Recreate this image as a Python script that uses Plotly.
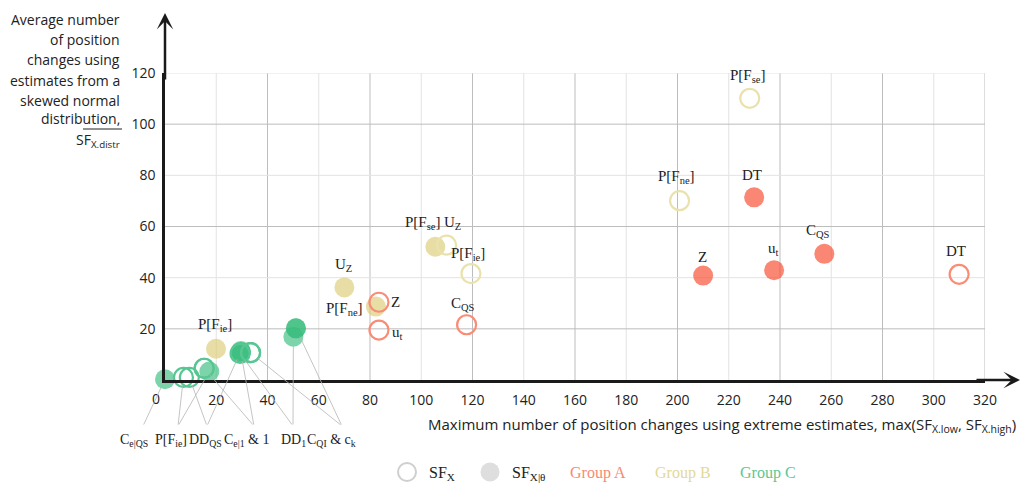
import plotly.graph_objects as go

# ---------------- data ----------------
x_ticks = list(range(20, 321, 20))
y_ticks = list(range(20, 121, 20))

# Group A  (SF_X = open ring, SF_X|theta = filled)
a_names = ["DT", "Z", "u<sub>t</sub>", "C<sub>QS</sub>"]
a_sfx_x = [309.9, 83.5, 83.5, 117.7]
a_sfx_y = [41.3, 30.4, 19.5, 21.6]
a_sfxt_x = [229.9, 210.0, 237.7, 257.3]
a_sfxt_y = [71.4, 40.8, 42.9, 49.3]

# Group B
b_names = ["P[F<sub>se</sub>]", "P[F<sub>ne</sub>]", "U<sub>Z</sub>", "P[F<sub>ie</sub>]"]
b_sfx_x = [228.2, 200.8, 109.9, 119.4]
b_sfx_y = [110.1, 70.1, 52.7, 41.6]
b_sfxt_x = [105.5, 82.3, 70.0, 19.9]
b_sfxt_y = [52.1, 28.7, 36.2, 12.2]

# Group C
c_names = ["C<sub>e|QS</sub>", "P[F<sub>ie</sub>]", "DD<sub>QS</sub>", "C<sub>e|1</sub>", "1",
           "DD<sub>1</sub>", "C<sub>QI</sub>", "c<sub>k</sub>"]
c_sfx_x = [None, 7.2, 9.5, 15.3, 15.3, 29.3, 33.4, 33.4]
c_sfx_y = [None, 1.0, 1.0, 4.6, 4.6, 10.4, 10.7, 10.7]
c_sfxt_x = [0.0, 17.3, 29.6, 29.6, 29.6, 50.1, 51.1, 51.1]
c_sfxt_y = [0.3, 3.3, 11.3, 10.8, 10.8, 16.9, 20.2, 20.2]
c_label_index = [0, 1, 2, 3, 3, 4, 5, 5]

legend_labels = ["SF<sub>X</sub>", "SF<sub>X|θ</sub>", "Group A", "Group B", "Group C"]

# ---------------- styling / layout ----------------
W, H = 1021, 486
ML, MR, MT, MB = 165, 36, 73, 106
PW, PH = W - ML - MR, H - MT - MB
XMAX, YMAX = 320, 120


def px(p):
    return (p - ML) / PW


def py(p):
    return (H - MB - p) / PH


A_FILL, A_RING, A_TXT = "rgb(247,70,40)", "rgb(250,140,118)", "#F98A72"
B_FILL, B_RING, B_TXT = "rgb(220,204,117)", "rgb(234,226,172)", "#E3D99A"
C_FILL, C_RING, C_TXT = "rgb(56,189,125)", "rgb(88,198,146)", "#5CC794"

SANS = "Open Sans"
SERIF = "Liberation Serif"


def filled(xs, ys, color):
    return go.Scatter(x=xs, y=ys, mode="markers", cliponaxis=False, showlegend=False,
                      hoverinfo="skip",
                      marker=dict(symbol="circle", size=20, color=color, opacity=0.65,
                                  line=dict(width=0)))


def ring(xs, ys, color):
    return go.Scatter(x=xs, y=ys, mode="markers", cliponaxis=False, showlegend=False,
                      hoverinfo="skip",
                      marker=dict(symbol="circle-open", size=19, color=color,
                                  line=dict(width=2.2, color=color)))


fig = go.Figure()
fig.add_trace(filled(a_sfxt_x, a_sfxt_y, A_FILL))
fig.add_trace(filled(b_sfxt_x, b_sfxt_y, B_FILL))
fig.add_trace(filled(c_sfxt_x, c_sfxt_y, C_FILL))
fig.add_trace(ring(a_sfx_x, a_sfx_y, A_RING))
fig.add_trace(ring(b_sfx_x, b_sfx_y, B_RING))
fig.add_trace(ring(c_sfx_x, c_sfx_y, C_RING))

shapes = []
# grid lines (darker every 40)
for v in x_ticks:
    shapes.append(dict(type="line", xref="x", yref="y", x0=v, x1=v, y0=0, y1=YMAX,
                       layer="below",
                       line=dict(color="#bdbdbd" if v % 40 == 0 else "#e3e3e3", width=1)))
for v in y_ticks:
    shapes.append(dict(type="line", xref="x", yref="y", x0=0, x1=XMAX, y0=v, y1=v,
                       layer="below",
                       line=dict(color="#bdbdbd" if v % 40 == 20 else "#e3e3e3", width=1)))

ann = []


def text_ann(xp, yp, t, font, xanchor="center"):
    ann.append(dict(xref="paper", yref="paper", x=px(xp), y=py(yp), text=t,
                    xanchor=xanchor, yanchor="middle", showarrow=False, font=font))


# axis arrows
ann.append(dict(xref="paper", yref="paper", x=px(1020), y=0, ax=-45, ay=0, text="",
                showarrow=True, arrowhead=3, arrowwidth=2.5, arrowsize=1.1,
                arrowcolor="#1a1a1a", font=dict(size=1), standoff=0))
ann.append(dict(xref="paper", yref="paper", x=0, y=py(13), ax=0, ay=68, text="",
                showarrow=True, arrowhead=3, arrowwidth=2.5, arrowsize=1.1,
                arrowcolor="#1a1a1a", font=dict(size=1), standoff=0))
# "0" tick label on x
text_ann(156, 398, "0", dict(family=SANS, size=14, color="#222"))

# point labels (offsets in px)
a_open_off = [(-3, 23), (17, 0), (19, -3), (-4, 21)]
a_fill_off = [(-2, 22), (-1, 19), (-1, 21), (-6, 23)]
b_open_off = [(-2, 22), (-3, 24), (6, 22), (-3, 20)]
b_fill_off = [(-13, 24), (-31, -2), (-1, 22), (-1, 24)]


def add_labels(names, xs, ys, offs):
    for n, xv, yv, (dx, dy) in zip(names, xs, ys, offs):
        ann.append(dict(x=xv, y=yv, xref="x", yref="y", text=n, showarrow=False,
                        xanchor="center", yanchor="middle", xshift=dx, yshift=dy,
                        font=dict(family=SERIF, size=15, color="#222")))


add_labels(a_names, a_sfx_x, a_sfx_y, a_open_off)
add_labels(a_names, a_sfxt_x, a_sfxt_y, a_fill_off)
add_labels(b_names, b_sfx_x, b_sfx_y, b_open_off)
add_labels(b_names, b_sfxt_x, b_sfxt_y, b_fill_off)

# group C labels below axis with leader lines
c_label_px = [134, 171, 205, 246, 293, 331]
c_anchor_px = [143, 178, 207, 254, 293, 342]
c_labels = []
for k in range(len(c_label_px)):
    c_labels.append(" & ".join(n for n, i in zip(c_names, c_label_index) if i == k))
for k, t in enumerate(c_labels):
    text_ann(c_label_px[k], 440, t, dict(family=SERIF, size=14, color="#222"))

seen = set()
anchor_y = (H - MB - 426) / PH * YMAX
for xs, ys in ((c_sfx_x, c_sfx_y), (c_sfxt_x, c_sfxt_y)):
    for xv, yv, i in zip(xs, ys, c_label_index):
        if xv is None or (xv, yv, i) in seen:
            continue
        seen.add((xv, yv, i))
        ann.append(dict(x=xv, y=yv, xref="x", yref="y", axref="x", ayref="y",
                        ax=(c_anchor_px[i] - ML) / PW * XMAX, ay=anchor_y, text="",
                        showarrow=True, arrowhead=0, arrowwidth=0.8, arrowcolor="#b5b5b5",
                        standoff=9, font=dict(size=1)))

# x axis title
text_ann(1018, 425,
         "Maximum number of position changes using extreme estimates, "
         "max(SF<sub>X.low</sub>, SF<sub>X.high</sub>)",
         dict(family=SANS, size=15, color="#222"), xanchor="right")

# y axis title (lines)
y_title_lines = ["Average number", "of position", "changes using", "estimates from a",
                 "skewed normal", "distribution,", "SF<sub>X.distr</sub>"]
y_line_pos = [20, 40, 60, 80, 100, 119, 140]
for t, p in zip(y_title_lines, y_line_pos):
    text_ann(122, p, t, dict(family=SANS, size=14, color="#222"), xanchor="right")
shapes.append(dict(type="line", xref="paper", yref="paper", x0=px(83), x1=px(122),
                   y0=py(129), y1=py(129), line=dict(color="#222", width=1)))

# legend
leg_y = 472
shapes.append(dict(type="circle", xref="paper", yref="paper", xsizemode="pixel",
                   ysizemode="pixel", xanchor=px(407), yanchor=py(leg_y), x0=-9, x1=9,
                   y0=-9, y1=9, line=dict(color="#cfcfcf", width=2)))
shapes.append(dict(type="circle", xref="paper", yref="paper", xsizemode="pixel",
                   ysizemode="pixel", xanchor=px(490), yanchor=py(leg_y), x0=-9.5, x1=9.5,
                   y0=-9.5, y1=9.5, fillcolor="#dedede", line=dict(width=0)))
leg_x = [427, 510, 568, 653, 738]
leg_col = ["#222", "#222", A_TXT, B_TXT, C_TXT]
for t, xp, c in zip(legend_labels, leg_x, leg_col):
    text_ann(xp, leg_y + 1, t, dict(family=SERIF, size=16, color=c), xanchor="left")

axis_common = dict(showgrid=False, zeroline=False, showline=True, linecolor="#1a1a1a",
                   linewidth=2.5, ticks="",
                   tickfont=dict(family=SANS, size=14, color="#222"))

fig.update_layout(
    width=W, height=H,
    margin=dict(l=ML, r=MR, t=MT, b=MB),
    paper_bgcolor="white", plot_bgcolor="white",
    xaxis=dict(range=[0, XMAX], tickvals=x_ticks, ticklabelstandoff=5, **axis_common),
    yaxis=dict(range=[0, YMAX], tickvals=y_ticks, ticklabelstandoff=4, **axis_common),
    shapes=shapes, annotations=ann,
)

fig.write_html("out.html")
